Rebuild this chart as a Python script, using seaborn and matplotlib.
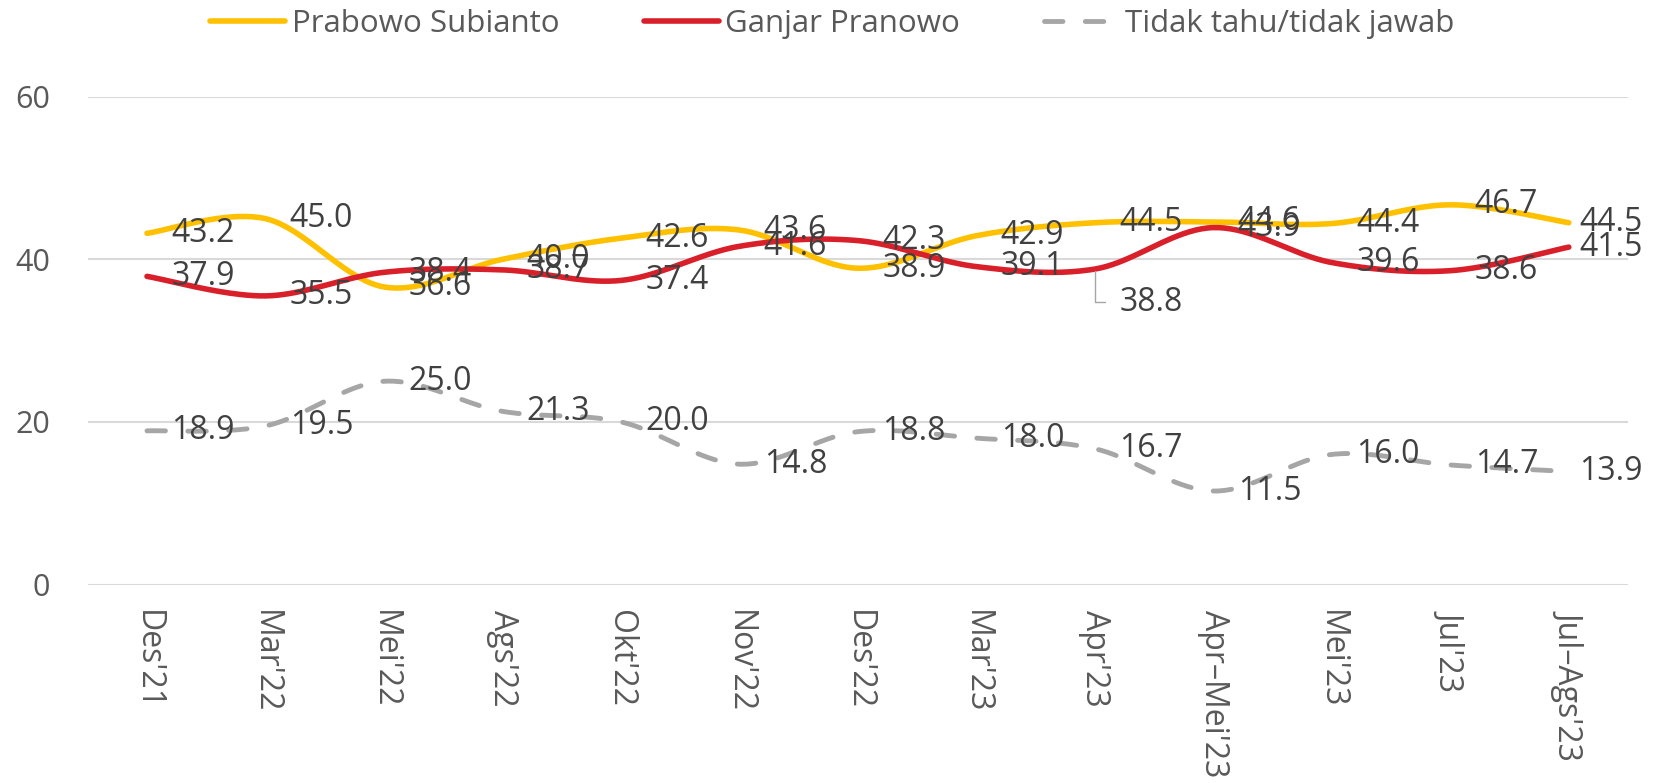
import numpy as np
import pandas as pd
import matplotlib
matplotlib.use("Agg")
import matplotlib.pyplot as plt
import seaborn as sns

# ---- data ----
categories = ["Des'21", "Mar'22", "Mei'22", "Ags'22", "Okt'22", "Nov'22", "Des'22",
              "Mar'23", "Apr'23", "Apr\u2013Mei'23", "Mei'23", "Jul'23", "Jul\u2013Ags'23"]
prabowo = [43.2, 45.0, 36.6, 40.0, 42.6, 43.6, 38.9, 42.9, 44.5, 44.6, 44.4, 46.7, 44.5]
ganjar = [37.9, 35.5, 38.4, 38.7, 37.4, 41.6, 42.3, 39.1, 38.8, 43.9, 39.6, 38.6, 41.5]
tidak = [18.9, 19.5, 25.0, 21.3, 20.0, 14.8, 18.8, 18.0, 16.7, 11.5, 16.0, 14.7, 13.9]
series_names = ["Prabowo Subianto", "Ganjar Pranowo", "Tidak tahu/tidak jawab"]
y_ticks = [0, 20, 40, 60]

# ---- style ----
sns.set_theme(style="white")
plt.rcParams["font.family"] = ["Open Sans", "DejaVu Sans"]

colors = ["#FFC000", "#D91F2A", "#A6A6A6"]
label_color = "#404040"
tick_color = "#595959"


def excel_smooth(values, n=40):
    """Excel-style smoothed line: cubic Bezier (Catmull-Rom) through data points."""
    P = np.column_stack([np.arange(len(values)), values]).astype(float)
    out = []
    for i in range(len(P) - 1):
        p0 = P[i - 1] if i > 0 else P[i]
        p1, p2 = P[i], P[i + 1]
        p3 = P[i + 2] if i + 2 < len(P) else P[i + 1]
        c1 = p1 + (p2 - p0) / 6.0
        c2 = p2 - (p3 - p1) / 6.0
        t = np.linspace(0, 1, n, endpoint=(i == len(P) - 2))[:, None]
        seg = ((1 - t) ** 3) * p1 + 3 * ((1 - t) ** 2) * t * c1 + 3 * (1 - t) * t ** 2 * c2 + t ** 3 * p2
        out.append(seg)
    return np.vstack(out)


fig = plt.figure(figsize=(16.65, 7.83), dpi=100)
ax = fig.add_axes([0.0527, 0.2535, 0.9251, 0.6230])

all_series = [prabowo, ganjar, tidak]
styles = [
    dict(linewidth=4.0, solid_capstyle="round"),
    dict(linewidth=4.0, solid_capstyle="round"),
    dict(linewidth=3.5, linestyle=(0, (3.8, 4.6)), dash_capstyle="round"),
]
for vals, name, col, st in zip(all_series, series_names, colors, styles):
    pts = excel_smooth(vals)
    df = pd.DataFrame({"x": pts[:, 0], "y": pts[:, 1]})
    sns.lineplot(data=df, x="x", y="y", sort=False, estimator=None, color=col,
                 label=name, ax=ax, **st)

# data labels
for vals in all_series:
    for i, v in enumerate(vals):
        if vals is ganjar and i == 8:
            ax.annotate(f"{v:.1f}", xy=(i, v), xytext=(17.5, -24), textcoords="offset points",
                        ha="left", va="center", fontsize=23, color=label_color, zorder=6,
                        arrowprops=dict(arrowstyle="-", color="#A6A6A6", lw=1.0,
                                        connectionstyle="angle,angleA=0,angleB=90",
                                        relpos=(0, 0.5), shrinkA=8, shrinkB=1.5))
            continue
        dx = 7.5 if i == len(vals) - 1 else 17.5
        ax.annotate(f"{v:.1f}", xy=(i, v), xytext=(dx, 0), textcoords="offset points",
                    ha="left", va="center", fontsize=23, color=label_color, zorder=6,
                    annotation_clip=False)

ax.set_xlim(-0.5, len(categories) - 0.5)
ax.set_ylim(0, 60)
ax.set_yticks(y_ticks)
ax.set_yticklabels([str(t) for t in y_ticks])
ax.set_xticks(range(len(categories)))
ax.set_xticklabels(categories, rotation=270, ha="center", va="top")
ax.set_xlabel("")
ax.set_ylabel("")
ax.tick_params(axis="y", length=0, pad=27, labelsize=22, labelcolor=tick_color)
ax.tick_params(axis="x", length=0, pad=18, labelsize=23, labelcolor=tick_color)
ax.yaxis.grid(True, color="#D9D9D9", linewidth=1.5)
ax.xaxis.grid(False)
ax.set_axisbelow(True)
for sp in ax.spines.values():
    sp.set_visible(False)

handles, labels = ax.get_legend_handles_labels()
ax.get_legend().remove()
fig.legend(handles, labels, loc="upper center", bbox_to_anchor=(0.5, 1.024), ncol=3,
           frameon=False, fontsize=22.5, handlelength=2.4, handletextpad=0.2,
           columnspacing=2.7, labelcolor=tick_color)

fig.savefig("out.png", dpi=100)
